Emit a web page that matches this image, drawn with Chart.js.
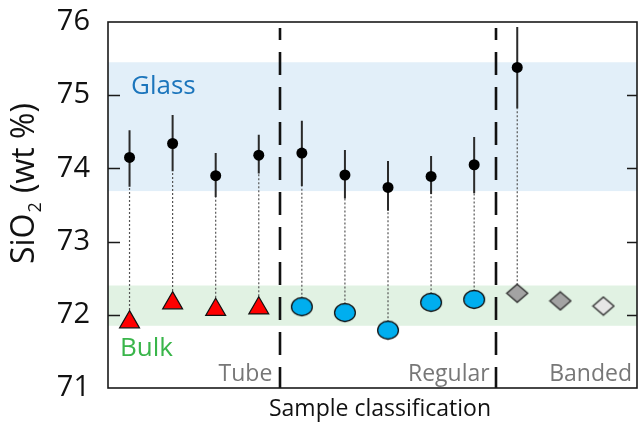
<!DOCTYPE html>
<html>
<head>
<meta charset="utf-8">
<script src="https://cdn.jsdelivr.net/npm/chart.js@4.4.1/dist/chart.umd.min.js"></script>
<style>
  html, body { margin: 0; padding: 0; background: #fff; }
  #wrap { width: 638px; height: 429px; }
</style>
</head>
<body>
<div id="wrap"><canvas id="c" width="638" height="429"></canvas></div>
<script>
// Sample groups and positions along the x axis
const groups = ['Tube', 'Regular', 'Banded'];
const sampleX = [0, 1, 2, 3, 4, 5, 6, 7, 8, 9, 10, 11];
const dividers = [3.5, 8.5];

// Glass (matrix glass) SiO2 means and spread, samples 0-9
const glassX    = [0, 1, 2, 3, 4, 5, 6, 7, 8, 9];
const glassMean = [74.15, 74.34, 73.90, 74.18, 74.21, 73.91, 73.74, 73.89, 74.05, 75.38];
const glassHigh = [74.52, 74.73, 74.21, 74.46, 74.65, 74.25, 74.10, 74.17, 74.43, 75.93];
const glassLow  = [73.75, 73.96, 73.61, 73.93, 73.76, 73.59, 73.42, 73.65, 73.66, 74.82];

// Bulk SiO2 by group
const bulkTube    = [71.90, 72.16, 72.07, 72.09];
const bulkRegular = [72.11, 72.03, 71.79, 72.17, 72.21];
const bulkBanded  = [72.295, 72.19, 72.12];

// Shaded ranges
const glassRange = [73.69, 75.45];
const bulkRange  = [71.85, 72.40];

// Axis
const yTicks = [71, 72, 73, 74, 75, 76];

const FONT = "'Open Sans', 'Noto Sans', sans-serif";
const bulkAll = bulkTube.concat(bulkRegular, bulkBanded);

// Marker images: ellipse and diamonds
function makeEllipse(fill) {
  const c = document.createElement('canvas');
  c.width = 24; c.height = 21;
  const g = c.getContext('2d');
  g.beginPath();
  g.ellipse(12, 10.5, 10.4, 9, 0, 0, Math.PI * 2);
  g.fillStyle = fill; g.fill();
  g.lineWidth = 1.3; g.strokeStyle = '#111'; g.stroke();
  return c;
}
function makeDiamond(fill) {
  const c = document.createElement('canvas');
  c.width = 24; c.height = 21;
  const g = c.getContext('2d');
  g.beginPath();
  g.moveTo(12, 1.5); g.lineTo(22.5, 10.5); g.lineTo(12, 19.5); g.lineTo(1.5, 10.5); g.closePath();
  g.fillStyle = fill; g.fill();
  g.lineWidth = 1.4; g.strokeStyle = '#333'; g.lineJoin = 'miter'; g.stroke();
  return c;
}
const ellipseImg = makeEllipse('#00aeef');
const diamondDark = makeDiamond('#a3a3a3');
const diamondLight = makeDiamond('#e6e6e6');

// Vertical segment datasets (error bars and connectors), separated by gaps
const errorSegments = [];
glassX.forEach((x, i) => {
  errorSegments.push({ x, y: glassLow[i] }, { x, y: glassHigh[i] }, { x, y: null });
});
const connectorSegments = [];
glassX.forEach((x, i) => {
  connectorSegments.push({ x, y: bulkAll[i] }, { x, y: glassLow[i] }, { x, y: null });
});

const decor = {
  id: 'decor',
  beforeDatasetsDraw(chart) {
    const { ctx, chartArea: a, scales: { x, y } } = chart;
    ctx.save();
    // shaded ranges
    ctx.fillStyle = '#e2eff9';
    const g1 = y.getPixelForValue(glassRange[1]), g0 = y.getPixelForValue(glassRange[0]);
    ctx.fillRect(a.left, g1, a.right - a.left, g0 - g1);
    ctx.fillStyle = '#e1f2e3';
    const b1 = y.getPixelForValue(bulkRange[1]), b0 = y.getPixelForValue(bulkRange[0]);
    ctx.fillRect(a.left, b1, a.right - a.left, b0 - b1);
    // group dividers
    ctx.strokeStyle = '#111';
    ctx.lineWidth = 2.6;
    ctx.setLineDash([23, 12]);
    ctx.lineDashOffset = 11;
    dividers.forEach(d => {
      const px = Math.round(x.getPixelForValue(d));
      ctx.beginPath();
      ctx.moveTo(px, a.top + 6);
      ctx.lineTo(px, a.bottom);
      ctx.stroke();
    });
    ctx.restore();
  },
  afterDatasetsDraw(chart) {
    const { ctx, chartArea: a, scales: { x, y } } = chart;
    ctx.save();
    // frame
    ctx.strokeStyle = '#1a1a1a';
    ctx.lineWidth = 1.6;
    ctx.strokeRect(a.left, a.top, a.right - a.left, a.bottom - a.top);
    // inward ticks
    ctx.lineWidth = 1.6;
    yTicks.slice(1, -1).forEach(v => {
      const py = Math.round(y.getPixelForValue(v)) + 0.5;
      ctx.beginPath();
      ctx.moveTo(a.left, py); ctx.lineTo(a.left + 12, py);
      ctx.moveTo(a.right, py); ctx.lineTo(a.right - 10, py);
      ctx.stroke();
    });
    // range and group labels
    ctx.textBaseline = 'alphabetic';
    ctx.textAlign = 'left';
    ctx.font = '26px ' + FONT;
    ctx.fillStyle = '#1b75bc';
    ctx.fillText('Glass', a.left + 23, 94);
    ctx.fillStyle = '#39b54a';
    ctx.fillText('Bulk', a.left + 12, 356);
    ctx.font = '23px ' + FONT;
    ctx.fillStyle = '#777777';
    ctx.textAlign = 'right';
    ctx.fillText(groups[0], x.getPixelForValue(dividers[0]) - 8, 381);
    ctx.fillText(groups[1], x.getPixelForValue(dividers[1]) - 6, 381);
    ctx.fillText(groups[2], a.right - 5, 381);
    ctx.restore();
  },
  afterDraw(chart) {
    const { ctx } = chart;
    ctx.save();
    // x axis title
    ctx.fillStyle = '#111';
    ctx.font = '23px ' + FONT;
    ctx.textAlign = 'center';
    ctx.textBaseline = 'alphabetic';
    ctx.fillText('Sample classification', 380, 416);
    // y axis title with subscript
    ctx.translate(34, 264);
    ctx.rotate(-Math.PI / 2);
    ctx.textAlign = 'left';
    ctx.font = '32px ' + FONT;
    const w1 = ctx.measureText('SiO').width;
    ctx.fillText('SiO', 0, 0);
    ctx.font = '18px ' + FONT;
    ctx.fillText('2', w1 + 1, 7);
    const w2 = ctx.measureText('2').width;
    ctx.font = '32px ' + FONT;
    ctx.fillText(' (wt %)', w1 + w2 + 2, 0);
    ctx.restore();
  }
};

new Chart(document.getElementById('c'), {
  type: 'scatter',
  data: {
    datasets: [
      {
        label: 'Glass',
        data: glassX.map((x, i) => ({ x, y: glassMean[i] })),
        pointStyle: 'circle', pointRadius: 5.5,
        backgroundColor: '#000', borderColor: '#000', borderWidth: 0,
        order: 1
      },
      {
        label: groups[0],
        data: bulkTube.map((v, i) => ({ x: sampleX[i], y: v })),
        pointStyle: 'triangle', pointRadius: 11.5,
        backgroundColor: '#ff0000', borderColor: '#111', borderWidth: 1.2,
        order: 0
      },
      {
        label: groups[1],
        data: bulkRegular.map((v, i) => ({ x: sampleX[i + 4], y: v })),
        pointStyle: ellipseImg,
        order: 0
      },
      {
        label: groups[2],
        data: bulkBanded.map((v, i) => ({ x: sampleX[i + 9], y: v })),
        pointStyle: [diamondDark, diamondDark, diamondLight],
        order: 0
      },
      {
        label: 'error',
        data: errorSegments,
        showLine: true, spanGaps: false,
        pointRadius: 0, borderColor: '#2a2a2a', borderWidth: 2,
        order: 2
      },
      {
        label: 'link',
        data: connectorSegments,
        showLine: true, spanGaps: false,
        pointRadius: 0, borderColor: '#555', borderWidth: 1.2,
        borderDash: [2, 2],
        order: 3
      }
    ]
  },
  options: {
    responsive: false,
    animation: false,
    devicePixelRatio: 1,
    layout: { autoPadding: false, padding: { top: 22, right: 1, left: 0, bottom: 0 } },
    plugins: { legend: { display: false }, tooltip: { enabled: false } },
    elements: { point: { hoverRadius: 0 } },
    scales: {
      x: {
        type: 'linear', min: -0.5, max: 11.78,
        grid: { display: false }, border: { display: false },
        ticks: { display: false },
        afterFit(s) {
          s.height = 41;
          s.paddingLeft = 0; s.paddingRight = 0;
        }
      },
      y: {
        min: 71, max: 76,
        afterBuildTicks(s) { s.ticks = yTicks.map(v => ({ value: v })); },
        grid: { display: false, drawTicks: false }, border: { display: false },
        ticks: { font: { family: FONT, size: 29 }, color: '#111', padding: 18 },
        afterFit(s) {
          s.width = 108;
          s.paddingTop = 0; s.paddingBottom = 0;
        }
      }
    }
  },
  plugins: [decor]
});
</script>
</body>
</html>
